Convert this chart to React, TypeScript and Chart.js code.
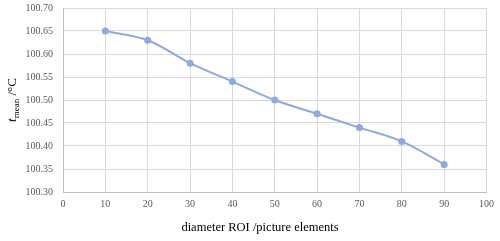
import React, { useEffect, useRef } from "react";
import { Chart, registerables } from "chart.js";

Chart.register(...registerables);

const diameters = [10, 20, 30, 40, 50, 60, 70, 80, 90];
const tMean = [100.65, 100.63, 100.58, 100.54, 100.5, 100.47, 100.44, 100.41, 100.36];
const xTitle = "diameter ROI /picture elements";
const yTitleMain = "t";
const yTitleSub = "mean";
const yTitleUnit = " /°C";

const titlesPlugin = {
  id: "titles",
  afterDraw(chart: any) {
    const ctx = chart.ctx;
    const area = chart.chartArea;
    ctx.save();
    ctx.fillStyle = "#000000";
    ctx.textBaseline = "middle";
    ctx.textAlign = "center";
    ctx.font = "12.5px 'Liberation Serif', 'Times New Roman', serif";
    ctx.fillText(xTitle, 260, 228);

    // y title, rotated
    const f1 = "italic 13px 'Liberation Serif', serif";
    const f2 = "9px 'Liberation Serif', serif";
    const f3 = "13px 'Liberation Serif', serif";
    ctx.font = f1;
    const w1 = ctx.measureText(yTitleMain).width;
    ctx.font = f2;
    const w2 = ctx.measureText(yTitleSub).width;
    ctx.font = f3;
    const w3 = ctx.measureText(yTitleUnit).width;
    const total = w1 + w2 + w3;
    ctx.translate(12, (area.top + area.bottom) / 2);
    ctx.rotate(-Math.PI / 2);
    ctx.textAlign = "left";
    ctx.textBaseline = "alphabetic";
    let x = -total / 2;
    ctx.font = f1;
    ctx.fillText(yTitleMain, x, 4);
    x += w1;
    ctx.font = f2;
    ctx.fillText(yTitleSub, x, 7);
    x += w2;
    ctx.font = f3;
    ctx.fillText(yTitleUnit, x, 4);
    ctx.restore();
  },
};

export default function App() {
  const ref = useRef<HTMLCanvasElement>(null);
  useEffect(() => {
    const chart = new Chart(ref.current!, {
      type: "line",
      data: {
        datasets: [
          {
            data: diameters.map((d, i) => ({ x: d, y: tMean[i] })),
            borderColor: "#8EAADB",
            backgroundColor: "#8EAADB",
            borderWidth: 2,
            pointRadius: 3.5,
            pointBorderWidth: 0,
            tension: 0.35,
          },
        ],
      },
      options: {
        animation: false,
        responsive: false,
        layout: { padding: { top: 8, right: 10, left: 0, bottom: 0 } },
        plugins: { legend: { display: false }, tooltip: { enabled: false } },
        scales: {
          x: {
            type: "linear",
            min: 0,
            max: 100,
            afterFit: (s: any) => {
              s.height = 49;
            },
            ticks: {
              stepSize: 10,
              padding: 6,
              color: "#595959",
              font: { family: "'Liberation Serif', serif", size: 10 },
            },
            grid: { color: "#d9d9d9", drawTicks: false },
            border: { color: "#bfbfbf" },
          },
          y: {
            min: 100.3,
            max: 100.7,
            afterFit: (s: any) => {
              s.width = 63;
              s.paddingTop = 0;
              s.paddingBottom = 0;
            },
            ticks: {
              stepSize: 0.05,
              padding: 10,
              color: "#595959",
              font: { family: "'Liberation Serif', serif", size: 10 },
              callback: (v: any) => Number(v).toFixed(2),
            },
            grid: { color: "#d9d9d9", drawTicks: false },
            border: { color: "#bfbfbf" },
          },
        },
      },
      plugins: [titlesPlugin],
    });
    return () => chart.destroy();
  }, []);
  return (
    <div style={{ position: "fixed", left: 0, top: 0, width: 500, height: 241, background: "#fff" }}>
      <canvas ref={ref} width={500} height={241} />
    </div>
  );
}
